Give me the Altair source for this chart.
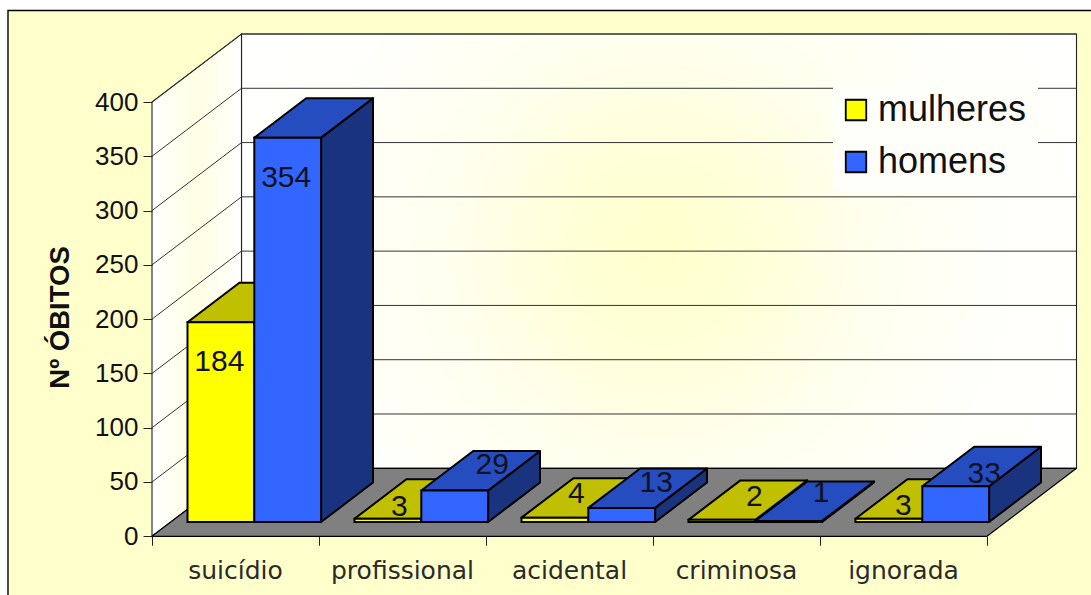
import altair as alt
import pandas as pd

# Chart content
categories = ["suicídio", "profissional", "acidental", "criminosa", "ignorada"]
mulheres = [184, 3, 4, 2, 3]
homens = [354, 29, 13, 1, 33]
y_ticks = [0, 50, 100, 150, 200, 250, 300, 350, 400]

# Oblique projection of the box: one unit of depth shifts a point this far
PX_PER_CAT = 167.0
PX_PER_VAL = 1.0857
DEPTH_X = 89.5 / PX_PER_CAT
DEPTH_Y = 68.0 / PX_PER_VAL
X_MAX = 5 + DEPTH_X
Y_MAX = 400 + DEPTH_Y
BAR_FRONT, BAR_BACK = 0.21, 0.79
PLOT_W = X_MAX * PX_PER_CAT
PLOT_H = Y_MAX * PX_PER_VAL

# Data label nudges in pixels, relative to the top-centre of each front face
LABEL_NUDGE = {
    "mulheres": [(-1.5, 39.6), (11.5, -11.7), (21.5, -23.7), (32.5, -22.8), (14.5, -12.7)],
    "homens": [(-1.5, 40.0), (37.5, -25.5), (34.5, -24.9), (32.5, -27.9), (28.5, -12.2)],
}
SERIES = {
    "mulheres": {"values": mulheres, "start": 0.1, "front": "#FFFF00", "top": "#C0C000", "side": "#808000"},
    "homens": {"values": homens, "start": 0.5, "front": "#3366FF", "top": "#264DBF", "side": "#1A337F"},
}
BAR_W = 0.4


def project(x, value, depth):
    return x + depth * DEPTH_X, value + depth * DEPTH_Y


def polygon(name, points, fill):
    return [
        {"poly": name, "i": i, "x": p[0], "y": p[1], "fill": fill}
        for i, p in enumerate(points)
    ]


def bar_faces(series):
    spec = SERIES[series]
    rows = []
    for c, v in enumerate(spec["values"]):
        x0 = c + spec["start"]
        x1 = x0 + BAR_W
        rows += polygon(f"{series}-side-{c}", [
            project(x1, 0, BAR_FRONT), project(x1, v, BAR_FRONT),
            project(x1, v, BAR_BACK), project(x1, 0, BAR_BACK)], spec["side"])
        rows += polygon(f"{series}-top-{c}", [
            project(x0, v, BAR_FRONT), project(x1, v, BAR_FRONT),
            project(x1, v, BAR_BACK), project(x0, v, BAR_BACK)], spec["top"])
    return pd.DataFrame(rows)


x_scale = alt.Scale(domain=[0, X_MAX], nice=False, zero=False)
y_scale = alt.Scale(domain=[0, Y_MAX], nice=False, zero=False)
x_axis = alt.Axis(
    values=[0, 1, 2, 3, 4, 5], labels=False, domain=False, grid=False, ticks=True,
    tickSize=9, tickColor="#222222", title=None, zindex=1,
)
y_axis = alt.Axis(
    values=y_ticks, domain=False, grid=False, ticks=True, tickSize=9, tickColor="#222222",
    labelFont="Liberation Sans", labelFontSize=26, labelColor="#111111", labelPadding=5,
    labelFlush=False, labelOverlap=False, zindex=1,
    title="Nº ÓBITOS", titleFont="Liberation Sans", titleFontSize=27.5, titleFontWeight="bold",
    titleColor="#111111", titleX=-78, titleY=283,
)
X = alt.X("x:Q", scale=x_scale, axis=x_axis)
Y = alt.Y("y:Q", scale=y_scale, axis=y_axis)


def faces_layer(df, stroke_width=2):
    return alt.Chart(df).mark_line(
        interpolate="linear-closed", stroke="#000000", strokeWidth=stroke_width, strokeJoin="round"
    ).encode(
        x=X, y=Y, detail="poly:N", order="i:Q",
        fill=alt.Fill("fill:N", scale=None, legend=None),
    )


# Chart area behind everything
frame = alt.Chart(pd.DataFrame({"a": [0]})).mark_rect(
    fill="#FFFFCC", stroke="#000000", strokeWidth=1.4
).encode(x=alt.value(-144), x2=alt.value(1000), y=alt.value(-23.5), y2=alt.value(620))

# Walls
pale_radial = {
    "gradient": "radial", "x1": 0.5, "y1": 0.5, "r1": 0, "x2": 0.5, "y2": 0.5, "r2": 0.6,
    "stops": [
        {"offset": 0, "color": "#FFFFCC"},
        {"offset": 0.2, "color": "#FFFFD8"},
        {"offset": 0.42, "color": "#FFFFEE"},
        {"offset": 0.67, "color": "#FFFFFA"},
        {"offset": 1, "color": "#FFFFFF"},
    ],
}
pale_linear = {
    "gradient": "linear", "x1": 0, "y1": 0, "x2": 1, "y2": 0,
    "stops": [
        {"offset": 0, "color": "#FFFFFF"},
        {"offset": 0.5, "color": "#FFFFE4"},
        {"offset": 1, "color": "#FFFFFF"},
    ],
}
back_wall = alt.Chart(pd.DataFrame({
    "x": [DEPTH_X], "x2": [X_MAX], "y": [DEPTH_Y], "y2": [Y_MAX]
})).mark_rect(fill=pale_radial, stroke="#222222", strokeWidth=1.1).encode(
    x=X, x2="x2:Q", y=Y, y2="y2:Q"
)
left_wall_df = pd.DataFrame(polygon("left", [
    project(0, 0, 0), project(0, 400, 0), project(0, 400, 1), project(0, 0, 1)], "wall"))
left_wall = alt.Chart(left_wall_df).mark_line(
    interpolate="linear-closed", stroke="#222222", strokeWidth=1.1, fill=pale_linear
).encode(x=X, y=Y, order="i:Q")

# Floor
floor_df = pd.DataFrame(polygon("floor", [
    project(0, 0, 0), project(5, 0, 0), project(5, 0, 1), project(0, 0, 1)], "#808080"))
floor = faces_layer(floor_df, 1.2)

# Gridlines run along the left wall and across the back wall
grid_rows = []
for t in y_ticks[1:]:
    for i, p in enumerate([project(0, t, 0), project(0, t, 1), project(5, t, 1)]):
        grid_rows.append({"t": t, "i": i, "x": p[0], "y": p[1]})
grid = alt.Chart(pd.DataFrame(grid_rows)).mark_line(
    stroke="#333333", strokeWidth=1
).encode(x=X, y=Y, detail="t:Q", order="i:Q")

# Category names sit below the front edge of the floor
cat_df = pd.DataFrame({"x": [i + 0.5 for i in range(5)], "label": categories})
cat_labels = alt.Chart(cat_df).mark_text(
    font="DejaVu Sans", fontSize=25, color="#2A2A2A", baseline="middle"
).encode(x=X, y=alt.value(537), text="label:N")

# Front faces carry the series colours and the legend
front_rows = []
label_rows = []
for name, spec in SERIES.items():
    for c, v in enumerate(spec["values"]):
        x0, base = project(c + spec["start"], 0, BAR_FRONT)
        x1, top = project(c + spec["start"] + BAR_W, v, BAR_FRONT)
        front_rows.append({"series": name, "x": x0, "x2": x1, "y": base, "y2": top})
        nx, ny = LABEL_NUDGE[name][c]
        label_rows.append({
            "x": (x0 + x1) / 2 + nx / PX_PER_CAT,
            "y": top - ny / PX_PER_VAL,
            "label": str(v),
        })
fronts = alt.Chart(pd.DataFrame(front_rows)).mark_rect(
    stroke="#000000", strokeWidth=2
).encode(
    x=X, x2="x2:Q", y=Y, y2="y2:Q",
    color=alt.Color(
        "series:N",
        scale=alt.Scale(domain=list(SERIES), range=[s["front"] for s in SERIES.values()]),
        legend=alt.Legend(
            title=None, orient="none", legendX=681, legendY=47, padding=11,
            fillColor="#FFFFFA", symbolType="square", symbolSize=420, symbolOffset=-6,
            symbolStrokeColor="#000000", symbolStrokeWidth=1.8, symbolOpacity=1,
            labelFont="Liberation Sans", labelFontSize=36, labelColor="#111111",
            labelLimit=300, labelOffset=4, rowPadding=16,
        ),
    ),
)
value_labels = alt.Chart(pd.DataFrame(label_rows)).mark_text(
    font="Liberation Sans", fontSize=30, color="#111122", baseline="middle"
).encode(x=X, y=Y, text="label:N")

chart = alt.layer(
    frame, back_wall, left_wall, floor, grid,
    faces_layer(bar_faces("mulheres")), faces_layer(bar_faces("homens")),
    fronts, value_labels, cat_labels,
).resolve_scale(x="shared", y="shared", color="independent").properties(
    width=PLOT_W, height=PLOT_H,
    padding={"left": 152, "top": 34, "right": 1091 - 152 - PLOT_W, "bottom": 595 - 34 - PLOT_H},
    autosize=alt.AutoSizeParams(type="none"),
    background="#FFFFFF",
).configure_view(stroke=None)

chart.save("out.html", embed_options={"renderer": "svg", "actions": False})
